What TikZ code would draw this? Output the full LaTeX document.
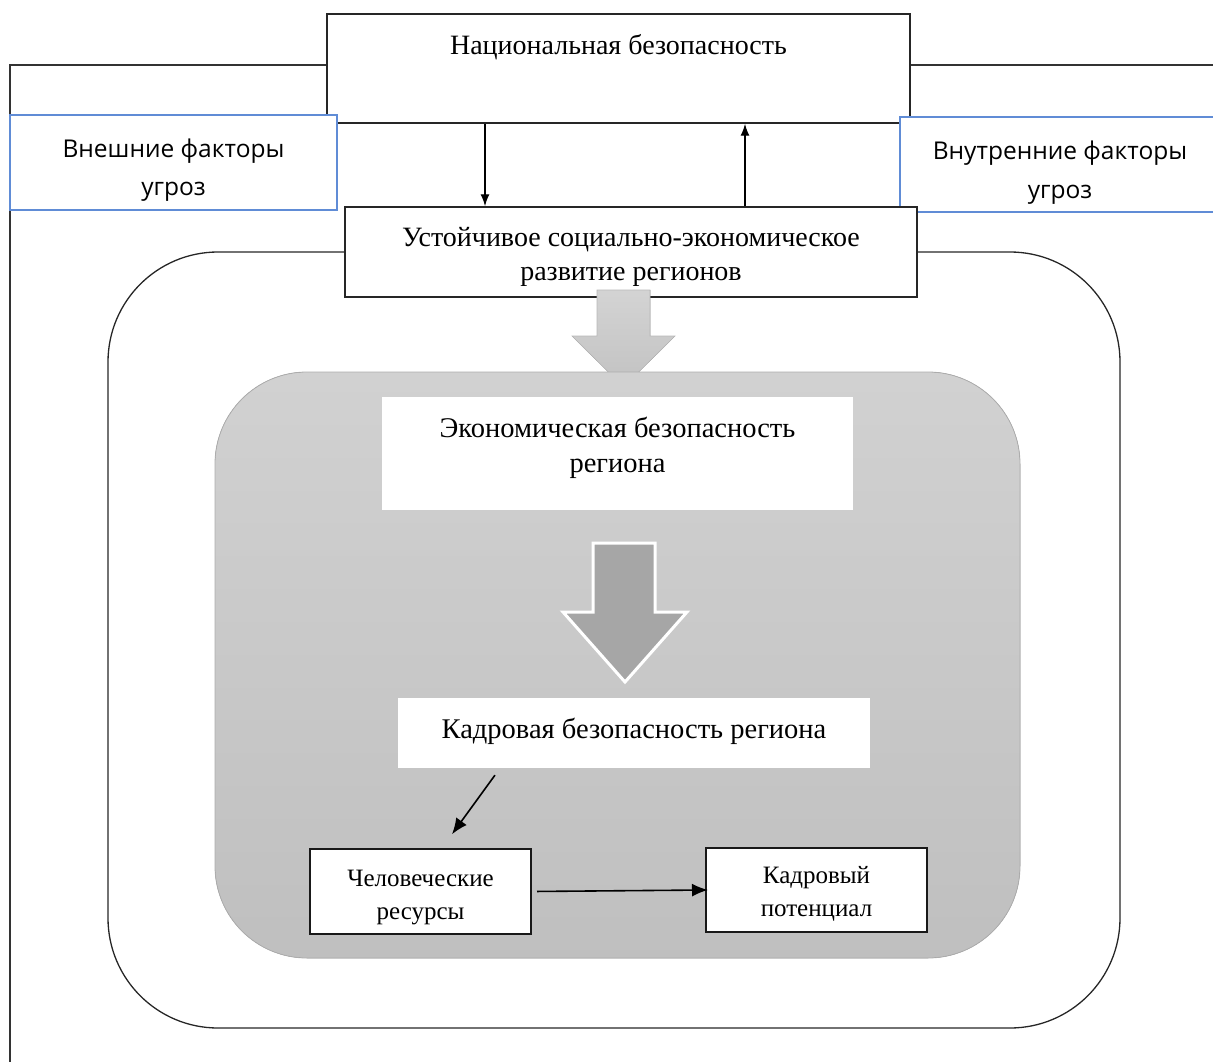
\documentclass[tikz,border=0pt]{standalone}
\usepackage{fontspec}
\setmainfont{Liberation Serif}
\newfontfamily\sansf{Open Sans}
\usetikzlibrary{arrows.meta,calc}
\definecolor{bordblue}{RGB}{96,140,214}
\newcommand\myTop[1]{\rule{0pt}{#1}}
\newcommand\myBot[1]{\rule[-#1]{0pt}{0pt}}
\begin{document}
\begin{tikzpicture}[x=1pt,y=-1pt,
  frameline/.style={draw=black!80, line width=1.4pt},
  plainbox/.style={draw=black!85, line width=1.5pt, fill=white, align=center, inner sep=0pt,
     font=\fontsize{28}{34}\selectfont},
  bluebox/.style={draw=bordblue, line width=1.5pt, fill=white, align=center, inner sep=0pt,
     font=\sansf\fontsize{24.5}{39}\selectfont},
  whitebox/.style={fill=white, align=center, inner sep=0pt, font=\fontsize{28.5}{35}\selectfont},
  smallbox/.style={draw=black!90, line width=2pt, fill=white, align=center, inner sep=0pt,
     font=\fontsize{25}{33}\selectfont},
  arr/.style={-{Latex[length=12pt,width=9pt]}, line width=1.4pt, draw=black},
  bigarr/.style={-{Latex[length=16pt,width=13pt]}, line width=1.6pt, draw=black}
]
\useasboundingbox (0,0) rectangle (1213,1062);
% outer frame
\draw[frameline] (327,65) -- (10,65) -- (10,1062);
\draw[frameline] (910,65) -- (1213,65);
% national security
\node[plainbox, minimum width=583pt, minimum height=109pt, text height=20pt, text depth=47pt]
  (nat) at (618.5,68.5) {Национальная безопасность};
% factor boxes
\node[bluebox, minimum width=327pt, minimum height=95pt] (ext) at (173.5,162.5)
  {\myTop{38pt}Внешние факторы\\угроз\myBot{10pt}};
\node[bluebox, minimum width=320pt, minimum height=95pt] (int) at (1060,164.5)
  {\myTop{38pt}Внутренние факторы\\угроз\myBot{10pt}};
% outer rounded region
\draw[draw=black!85, line width=1.3pt, rounded corners=110pt] (108,252) rectangle (1120,1028);
% sustainable development
\node[plainbox, minimum width=572pt, minimum height=90pt] (soc) at (631,252)
  {\myTop{32pt}Устойчивое социально-экономическое\\развитие регионов\myBot{10pt}};
\coordinate (c1) at (485,0);
\coordinate (c2) at (745,0);
\draw[arr] (nat.south -| c1) -- (soc.north -| c1);
\draw[arr] (soc.north -| c2) -- (nat.south -| c2);
% light gray block arrow
\fill[top color=black!17, bottom color=black!24, draw=black!28, line width=0.6pt]
  (597,290) -- (650,290) -- (650,336) -- (675,336) -- (623.5,387) -- (572,336) -- (597,336) -- cycle;
% gray inner region
\fill[top color=black!18, bottom color=black!25, draw=black!32, line width=0.8pt, rounded corners=92pt]
  (215,372) rectangle (1020,958);
% white boxes
\node[whitebox, minimum width=471pt, minimum height=113pt] (eco) at (617.5,453.5)
  {\myTop{24pt}Экономическая безопасность\\региона\myBot{22pt}};
\node[whitebox, minimum width=472pt, minimum height=70pt] (kad) at (634,733)
  {\myTop{26pt}Кадровая безопасность региона\myBot{16pt}};
% dark block arrow
\fill[fill=black!35, draw=white, line width=3pt, line join=miter]
  (593,543) -- (655,543) -- (655,612) -- (687,612) -- (625,682) -- (563,612) -- (593,612) -- cycle;
% small boxes
\node[smallbox, minimum width=221pt, minimum height=85pt] (hum) at (420.5,891.5)
  {\myTop{30pt}Человеческие\\ресурсы\myBot{8pt}};
\node[smallbox, minimum width=221pt, minimum height=84pt] (pot) at (816.5,890)
  {\myTop{27pt}Кадровый\\потенциал\myBot{8pt}};
\coordinate (c3) at (500,0);
\coordinate (c4) at (442,0);
\draw[bigarr, shorten <=8.6pt, shorten >=17pt] (kad.south -| c3) -- (hum.north -| c4);
\draw[bigarr, shorten <=5pt, shorten >=-3pt] (hum.east) -- (pot.west);
\end{tikzpicture}
\end{document}
